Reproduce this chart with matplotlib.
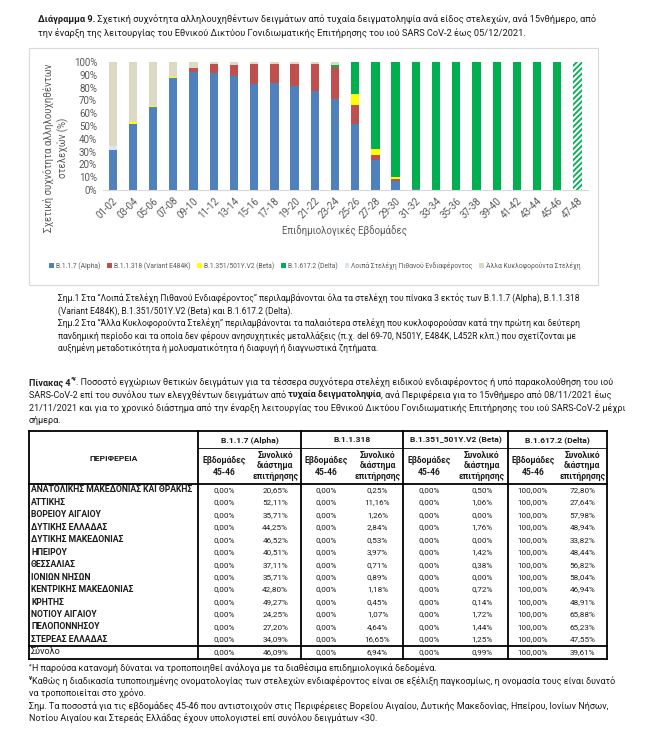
import matplotlib
matplotlib.use('Agg')
import matplotlib.pyplot as plt
from matplotlib.patches import Patch, Rectangle
import numpy as np

plt.rcParams['font.family'] = ['Roboto', 'DejaVu Sans']
plt.rcParams['hatch.color'] = '#00B050'
plt.rcParams['hatch.linewidth'] = 1.3

# ---- chart data: share (%) of sequenced samples per fortnight ----
weeks = ['01-02', '03-04', '05-06', '07-08', '09-10', '11-12', '13-14', '15-16',
         '17-18', '19-20', '21-22', '23-24', '25-26', '27-28', '29-30', '31-32',
         '33-34', '35-36', '37-38', '39-40', '41-42', '43-44', '45-46', '47-48']
alpha = [31.0, 51.3, 64.5, 87.5, 92.0, 91.5, 89.3, 82.5, 83.3, 81.5, 77.5, 70.8,
         51.5, 23.4, 7.3, 0.5, 0, 0, 0, 0, 0, 0, 0, 0]
e484k = [0, 0, 0, 0, 3.5, 6.7, 8.7, 16.3, 15.5, 17.3, 21.3, 25.5,
         15.0, 4.2, 1.3, 0.5, 0, 0, 0, 0, 0, 0, 0, 0]
beta = [0, 1.5, 1.5, 1.0, 0, 0, 0, 0, 0, 0, 0, 0,
        8.5, 4.7, 1.7, 0, 0, 0, 0, 0, 0, 0, 0, 0]
delta = [0, 0, 0, 0, 0, 0, 0, 0, 0, 0, 0, 1.2,
         25.0, 67.7, 89.7, 99.0, 100, 100, 100, 100, 100, 100, 100, 100]
voi_other = [3.5, 0, 0, 0, 0, 0, 0, 0, 0, 0, 0, 0,
             0, 0, 0, 0, 0, 0, 0, 0, 0, 0, 0, 0]
circulating = [65.5, 47.2, 34.0, 11.5, 4.5, 1.8, 2.0, 1.2, 1.2, 1.2, 1.2, 2.5,
               0, 0, 0, 0, 0, 0, 0, 0, 0, 0, 0, 0]

series_labels = ['B.1.1.7 (Alpha)', 'B.1.1.318 (Variant E484K)', 'B.1.351/501Y.V2 (Beta)',
                 'B.1.617.2 (Delta)', 'Λοιπά Στελέχη Πιθανού Ενδιαφέροντος',
                 'Άλλα Κυκλοφορούντα Στελέχη']
series_colors = ['#4F81BD', '#C0504D', '#FFFF00', '#00B050', '#DCE6F2', '#DDD9C4']

# ---- table data ----
regions = ['ΑΝΑΤΟΛΙΚΗΣ ΜΑΚΕΔΟΝΙΑΣ ΚΑΙ ΘΡΑΚΗΣ', 'ΑΤΤΙΚΗΣ', 'ΒΟΡΕΙΟΥ ΑΙΓΑΙΟΥ',
           'ΔΥΤΙΚΗΣ ΕΛΛΑΔΑΣ', 'ΔΥΤΙΚΗΣ ΜΑΚΕΔΟΝΙΑΣ', 'ΗΠΕΙΡΟΥ', 'ΘΕΣΣΑΛΙΑΣ',
           'ΙΟΝΙΩΝ ΝΗΣΩΝ', 'ΚΕΝΤΡΙΚΗΣ ΜΑΚΕΔΟΝΙΑΣ', 'ΚΡΗΤΗΣ', 'ΝΟΤΙΟΥ ΑΙΓΑΙΟΥ',
           'ΠΕΛΟΠΟΝΝΗΣΟΥ', 'ΣΤΕΡΕΑΣ ΕΛΛΑΔΑΣ']
variants = ['B.1.1.7 (Alpha)', 'B.1.1.318', 'B.1.351_501Y.V2 (Beta)', 'B.1.617.2 (Delta)']
alpha_4546 = [0.0] * 13
alpha_total = [20.65, 52.11, 35.71, 44.25, 46.52, 40.51, 37.11, 35.71, 42.80, 49.27, 24.25, 27.20, 34.09]
b318_4546 = [0.0] * 13
b318_total = [0.25, 11.16, 1.26, 2.84, 0.53, 3.97, 0.71, 0.89, 1.18, 0.45, 1.07, 4.64, 16.65]
beta_4546 = [0.0] * 13
beta_total = [0.50, 1.06, 0.00, 1.76, 0.00, 1.42, 0.38, 0.00, 0.72, 0.14, 1.72, 1.44, 1.25]
delta_4546 = [100.0] * 13
delta_total = [72.80, 27.64, 57.98, 48.94, 33.82, 48.44, 56.82, 58.04, 46.94, 48.91, 65.88, 65.23, 47.55]
sum_row = [0.00, 46.09, 0.00, 6.94, 0.00, 0.99, 100.00, 39.61]

fig = plt.figure(figsize=(6.5, 7.44), dpi=100)
page = fig.add_axes([0, 0, 1, 1], zorder=0)
page.set_xlim(0, 650)
page.set_ylim(744, 0)
page.axis('off')
renderer = fig.canvas.get_renderer()
INK = '#1c1c1c'
GREY = '#595959'


def text_w(txt, size, bold=False):
    t = page.text(0, 0, txt, fontsize=size, fontweight='bold' if bold else 'normal')
    w = t.get_window_extent(renderer).width
    t.remove()
    return w


def parts_w(parts, size):
    return sum(text_w(p, size * (0.65 if s == 'sup' else 1), s != 'n') for p, s in parts)


def fit(parts, width, base=7.0):
    return base * width / parts_w(parts, base)


def draw_line(x, y, parts, size, color=INK):
    # y is the baseline in pixels
    for p, s in parts:
        fs = size * (0.65 if s == 'sup' else 1)
        dy = -size * 0.55 if s == 'sup' else 0
        t = page.text(x, y + dy, p, fontsize=fs, fontweight='normal' if s == 'n' else 'bold',
                      va='baseline', ha='left', color=color)
        x += t.get_window_extent(renderer).width


# ---- caption ----
title_lines = [
    [('Διάγραμμα 9.', 'b'), (' Σχετική συχνότητα αλληλουχηθέντων δειγμάτων από τυχαία δειγματοληψία ανά είδος στελεχών, ανά 15νθήμερο, από', 'n')],
    [('την έναρξη της λειτουργίας του Εθνικού Δικτύου Γονιδιωματικής Επιτήρησης του ιού SARS CoV-2 έως 05/12/2021.', 'n')],
]
fs_title = fit(title_lines[0], 560)
for i, ln in enumerate(title_lines):
    draw_line(38, 22 + 14 * i, ln, fs_title)

# ---- chart ----
page.add_patch(Rectangle((29, 48), 569, 237, fill=False, edgecolor='#D9D9D9', lw=0.8))
ax = fig.add_axes([102.6 / 650, 1 - 190 / 744, 485 / 650, 128 / 744], zorder=2)
ax.set_facecolor('none')
xs = np.arange(len(weeks))
bottom = np.zeros(len(weeks))
containers = []
for vals, col, lab in zip([alpha, e484k, beta, delta, voi_other, circulating],
                          series_colors, series_labels):
    containers.append(ax.bar(xs, vals, 0.41, bottom=bottom, color=col, label=lab, linewidth=0))
    bottom += np.array(vals)
last = containers[3][-1]
last.set_facecolor('white')
last.set_edgecolor('#00B050')
last.set_hatch('//////')

ax.set_xlim(-0.5, 23.5)
ax.set_ylim(0, 100)
ax.set_yticks(range(0, 101, 10))
ax.set_yticklabels([f'{v}%' for v in range(0, 101, 10)], fontsize=7, color=GREY)
ax.set_xticks(xs)
ax.set_xticklabels(weeks, rotation=45, ha='right', rotation_mode='anchor', fontsize=7, color=GREY)
ax.tick_params(length=0, pad=4)
for s in ['top', 'right', 'left']:
    ax.spines[s].set_visible(False)
ax.spines['bottom'].set_color('#D9D9D9')

ylab = 'Σχετική συχνότητα αλληλουχηθέντων\nστελεχών (%)'
fs_ylab = fit([('Σχετική συχνότητα αλληλουχηθέντων', 'n')], 168, 8)
fs_xlab = fit([('Επιδημιολογικές Εβδομάδες', 'n')], 125, 8)
page.text(56, 148, ylab, rotation=90, ha='center', va='center', multialignment='center',
          fontsize=fs_ylab, color=GREY, linespacing=1.3)
page.text(345, 231, 'Επιδημιολογικές Εβδομάδες', ha='center', va='center', fontsize=fs_xlab, color=GREY)

handles = [Patch(facecolor=c, edgecolor='none') for c in series_colors]
page.legend(handles, series_labels, ncol=6, loc='center', bbox_to_anchor=(315, 266),
            bbox_transform=page.transData, frameon=False, fontsize=4.9, labelcolor=GREY,
            handlelength=0.7, handleheight=0.7, handletextpad=0.3, columnspacing=1.0)

# ---- notes under chart ----
notes = [
    'Σημ.1 Στα “Λοιπά Στελέχη Πιθανού Ενδιαφέροντος” περιλαμβάνονται όλα τα στελέχη του πίνακα 3 εκτός των B.1.1.7 (Alpha), B.1.1.318',
    '(Variant E484K), B.1.351/501Y.V2 (Beta) και B.1.617.2 (Delta).',
    'Σημ.2 Στα “Άλλα Κυκλοφορούντα Στελέχη” περιλαμβάνονται τα παλαιότερα στελέχη που κυκλοφορούσαν κατά την πρώτη και δεύτερη',
    'πανδημική περίοδο και τα οποία δεν φέρουν ανησυχητικές μεταλλάξεις (π.χ. del 69-70, N501Y, E484K, L452R κλπ.) που σχετίζονται με',
    'αυξημένη μεταδοτικότητα ή μολυσματικότητα ή διαφυγή ή διαγνωστικά ζητήματα.',
]
fs_notes = fit([(notes[3], 'n')], 522)
for i, ln in enumerate(notes):
    draw_line(58, 301 + 12.6 * i, [(ln, 'n')], fs_notes)

# ---- table caption ----
tcap = [
    [('Πίνακας 4', 'b'), ('*¥', 'sup'), ('. Ποσοστό εγχώριων θετικών δειγμάτων για τα τέσσερα συχνότερα στελέχη ειδικού ενδιαφέροντος ή υπό παρακολούθηση του ιού', 'n')],
    [('SARS-CoV-2 επί του συνόλου των ελεγχθέντων δειγμάτων από ', 'n'), ('τυχαία δειγματοληψία', 'b'),
     (', ανά Περιφέρεια για το 15νθήμερο από 08/11/2021 έως', 'n')],
    [('21/11/2021 και για το χρονικό διάστημα από την έναρξη λειτουργίας του Εθνικού Δικτύου Γονιδιωματικής Επιτήρησης του ιού SARS-CoV-2 μέχρι', 'n')],
    [('σήμερα.', 'n')],
]
fs_tcap = fit(tcap[2], 604)
for i, ln in enumerate(tcap):
    draw_line(29, 385 + 12.8 * i, ln, fs_tcap)

# ---- table ----
edges = [29, 198, 301, 403, 508, 607]
top, grp_line, head_bot = 431, 448, 484
row_y0, row_dy = 490, 12.45
sum_line, tbl_bot = 646, 659

thick, thin = 1.3, 0.6
for y in [top, head_bot, sum_line, tbl_bot]:
    page.plot([edges[0], edges[-1]], [y, y], color='black', lw=thick, solid_capstyle='projecting')
page.plot([edges[1], edges[-1]], [grp_line, grp_line], color='black', lw=thin)
for x in edges:
    page.plot([x, x], [top, tbl_bot], color='black', lw=thick, solid_capstyle='projecting')

fs_reg = fit([(regions[0], 'b')], 164)
fs_val = fit([('100,00%', 'n')], 30)
fs_grp = fit([(variants[0], 'b')], 57)
fs_sub = fit([('Εβδομάδες', 'b')], 44)

page.text((edges[0] + edges[1]) / 2, (top + head_bot) / 2 + 1, 'ΠΕΡΙΦΕΡΕΙΑ', ha='center', va='center',
          fontsize=fs_grp, fontweight='bold', color=INK)
sub_centers = []
for g, name in enumerate(variants):
    l, r = edges[g + 1], edges[g + 2]
    page.text((l + r) / 2, (top + grp_line) / 2 + 0.5, name, ha='center', va='center',
              fontsize=fs_grp, fontweight='bold', color=INK)
    c1, c2 = l + 0.25 * (r - l), l + 0.75 * (r - l)
    sub_centers += [c1, c2]
    page.text(c1, (grp_line + head_bot) / 2 + 0.5, 'Εβδομάδες\n45-46', ha='center', va='center',
              fontsize=fs_sub, fontweight='bold', color=INK, linespacing=1.45)
    page.text(c2, (grp_line + head_bot) / 2, 'Συνολικό\nδιάστημα\nεπιτήρησης', ha='center', va='center',
              fontsize=fs_sub, fontweight='bold', color=INK, linespacing=1.15)


def pct(v):
    return f'{v:.2f}'.replace('.', ',') + '%'


cols = [alpha_4546, alpha_total, b318_4546, b318_total, beta_4546, beta_total, delta_4546, delta_total]
for i, reg in enumerate(regions):
    y = row_y0 + row_dy * i
    page.text(31, y, reg, ha='left', va='center', fontsize=fs_reg, fontweight='bold', color=INK)
    for c, col in zip(sub_centers, cols):
        page.text(c, y, pct(col[i]), ha='center', va='center', fontsize=fs_val, color=INK)
y = row_y0 + row_dy * len(regions)
page.text(31, y, 'Σύνολο', ha='left', va='center', fontsize=fs_reg * 1.05, color=INK)
for c, v in zip(sub_centers, sum_row):
    page.text(c, y, pct(v), ha='center', va='center', fontsize=fs_val, color=INK)

# ---- footnotes ----
foot = [
    [('*', 'sup'), ('Η παρούσα κατανομή δύναται να τροποποιηθεί ανάλογα με τα διαθέσιμα επιδημιολογικά δεδομένα.', 'n')],
    [('¥', 'sup'), ('Καθώς η διαδικασία τυποποιημένης ονοματολογίας των στελεχών ενδιαφέροντος είναι σε εξέλιξη παγκοσμίως, η ονομασία τους είναι δυνατό', 'n')],
    [('να τροποποιείται στο χρόνο.', 'n')],
    [('Σημ. Τα ποσοστά για τις εβδομάδες 45-46 που αντιστοιχούν στις Περιφέρειες Βορείου Αιγαίου, Δυτικής Μακεδονίας, Ηπείρου, Ιονίων Νήσων,', 'n')],
    [('Νοτίου Αιγαίου και Στερεάς Ελλάδας έχουν υπολογιστεί επί συνόλου δειγμάτων <30.', 'n')],
]
fs_foot = fit(foot[3], 582)
for i, ln in enumerate(foot):
    draw_line(29, 671 + 12.6 * i, ln, fs_foot)

fig.savefig('out.png', dpi=100, facecolor='white')
